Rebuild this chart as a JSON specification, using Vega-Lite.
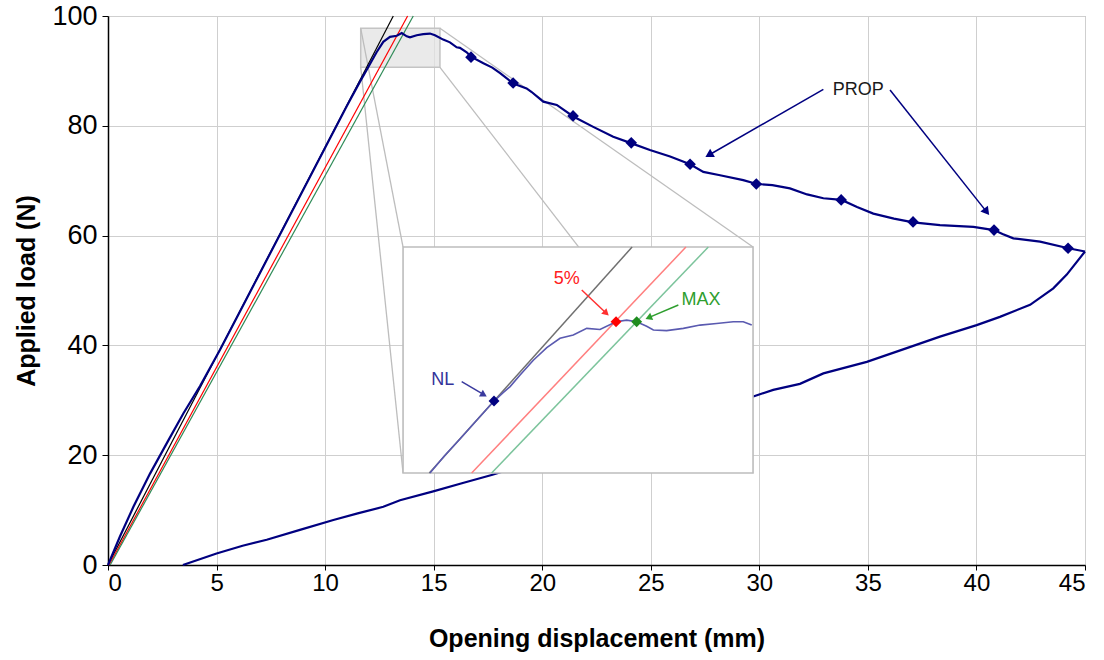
{
  "$schema": "https://vega.github.io/schema/vega-lite/v6.json",
  "width": 977,
  "height": 549,
  "autosize": {"type": "none"},
  "padding": {"left": 108, "top": 16, "right": 19, "bottom": 95},
  "background": "white",
  "config": {
    "font": "Liberation Sans",
    "view": {"stroke": "#a6a6a6", "strokeWidth": 1},
    "axis": {
      "domainColor": "#000000", "domainWidth": 1.5,
      "tickColor": "#000000", "tickSize": 6, "tickWidth": 1,
      "gridColor": "#cfcfcf", "gridWidth": 1,
      "labelFont": "Liberation Sans", "labelColor": "#000000",
      "titleFont": "Liberation Sans", "titleFontSize": 25, "titleFontWeight": "bold", "titleColor": "#000000"
    },
    "axisX": {"labelFontSize": 24, "tickSize": 5, "labelPadding": 1, "titlePadding": 31},
    "axisY": {"labelFontSize": 27, "labelPadding": 5, "titlePadding": 12}
  },
  "datasets": {
    "curve": [
      {"x":0,"y":0,"branch":"load"},{"x":0.55,"y":5.2,"branch":"load"},{"x":1.17,"y":10.6,"branch":"load"},{"x":1.93,"y":16.6,"branch":"load"},{"x":2.78,"y":22.7,"branch":"load"},{"x":3.47,"y":27.6,"branch":"load"},{"x":4.24,"y":32.6,"branch":"load"},{"x":5.16,"y":39.2,"branch":"load"},{"x":6.0,"y":45.6,"branch":"load"},{"x":7.0,"y":53.2,"branch":"load"},{"x":8.0,"y":60.8,"branch":"load"},{"x":9.0,"y":68.4,"branch":"load"},{"x":10.0,"y":76.0,"branch":"load"},{"x":11.0,"y":83.6,"branch":"load"},{"x":11.6,"y":88.0,"branch":"load"},{"x":11.99,"y":90.7,"branch":"load"},{"x":12.37,"y":93.4,"branch":"load"},{"x":12.68,"y":95.3,"branch":"load"},{"x":12.99,"y":96.2,"branch":"load"},{"x":13.3,"y":96.4,"branch":"load"},{"x":13.53,"y":96.9,"branch":"load"},{"x":13.76,"y":96.3,"branch":"load"},{"x":13.91,"y":96.1,"branch":"load"},{"x":14.22,"y":96.5,"branch":"load"},{"x":14.52,"y":96.7,"branch":"load"},{"x":14.83,"y":96.8,"branch":"load"},{"x":15.06,"y":96.5,"branch":"load"},{"x":15.44,"y":95.7,"branch":"load"},{"x":15.75,"y":95.2,"branch":"load"},{"x":16.06,"y":94.3,"branch":"load"},{"x":16.21,"y":94.2,"branch":"load"},{"x":16.52,"y":93.4,"branch":"load"},{"x":16.72,"y":92.6,"branch":"load"},{"x":17.29,"y":91.4,"branch":"load"},{"x":17.7,"y":90.6,"branch":"load"},{"x":18.06,"y":89.6,"branch":"load"},{"x":18.67,"y":87.7,"branch":"load"},{"x":19.28,"y":86.8,"branch":"load"},{"x":19.5,"y":86.2,"branch":"load"},{"x":20.05,"y":84.4,"branch":"load"},{"x":20.67,"y":83.8,"branch":"load"},{"x":21.43,"y":81.7,"branch":"load"},{"x":22.35,"y":79.8,"branch":"load"},{"x":23.27,"y":78.0,"branch":"load"},{"x":24.12,"y":76.8,"branch":"load"},{"x":24.96,"y":75.6,"branch":"load"},{"x":25.89,"y":74.4,"branch":"load"},{"x":26.81,"y":73.0,"branch":"load"},{"x":27.42,"y":71.6,"branch":"load"},{"x":28.19,"y":71.0,"branch":"load"},{"x":29.26,"y":70.1,"branch":"load"},{"x":29.88,"y":69.4,"branch":"load"},{"x":30.6,"y":69.2,"branch":"load"},{"x":31.41,"y":68.6,"branch":"load"},{"x":32.2,"y":67.5,"branch":"load"},{"x":32.95,"y":66.8,"branch":"load"},{"x":33.79,"y":66.5,"branch":"load"},{"x":34.5,"y":65.2,"branch":"load"},{"x":35.25,"y":64.0,"branch":"load"},{"x":36.2,"y":63.1,"branch":"load"},{"x":37.09,"y":62.4,"branch":"load"},{"x":38.32,"y":61.9,"branch":"load"},{"x":39.86,"y":61.6,"branch":"load"},{"x":40.81,"y":61.0,"branch":"load"},{"x":41.2,"y":60.3,"branch":"load"},{"x":41.7,"y":59.5,"branch":"load"},{"x":42.93,"y":58.9,"branch":"load"},{"x":44.23,"y":57.7,"branch":"load"},{"x":45,"y":57.1,"branch":"load"},
      {"x":3.45,"y":0,"branch":"unload"},{"x":5.0,"y":2.1,"branch":"unload"},{"x":6.2,"y":3.5,"branch":"unload"},{"x":7.31,"y":4.6,"branch":"unload"},{"x":8.84,"y":6.4,"branch":"unload"},{"x":10.38,"y":8.2,"branch":"unload"},{"x":11.5,"y":9.4,"branch":"unload"},{"x":12.68,"y":10.6,"branch":"unload"},{"x":13.45,"y":11.8,"branch":"unload"},{"x":14.98,"y":13.4,"branch":"unload"},{"x":16.3,"y":14.9,"branch":"unload"},{"x":17.67,"y":16.4,"branch":"unload"},{"x":29.72,"y":30.7,"branch":"unload"},{"x":30.64,"y":31.9,"branch":"unload"},{"x":31.87,"y":33.0,"branch":"unload"},{"x":32.95,"y":34.9,"branch":"unload"},{"x":34.95,"y":37.0,"branch":"unload"},{"x":36.79,"y":39.5,"branch":"unload"},{"x":38.32,"y":41.6,"branch":"unload"},{"x":40.01,"y":43.7,"branch":"unload"},{"x":41.08,"y":45.2,"branch":"unload"},{"x":42.47,"y":47.4,"branch":"unload"},{"x":43.54,"y":50.4,"branch":"unload"},{"x":44.16,"y":52.9,"branch":"unload"},{"x":45,"y":57.1,"branch":"unload"}
    ],
    "props": [
      {"x":16.72,"y":92.5},{"x":18.66,"y":87.8},{"x":21.42,"y":81.8},{"x":24.1,"y":76.9},{"x":26.81,"y":73.0},{"x":29.86,"y":69.4},{"x":33.77,"y":66.5},{"x":37.08,"y":62.5},{"x":40.81,"y":61.0},{"x":44.22,"y":57.7}
    ],
    "refs": [
      {"x":0,"y":0,"line":"NL"},{"x":13.14,"y":100,"line":"NL"},
      {"x":0.05,"y":0,"line":"5%"},{"x":13.8,"y":100,"line":"5%"},
      {"x":0.1,"y":0,"line":"MAX"},{"x":14.06,"y":100,"line":"MAX"}
    ],
    "boxes": [
      {"box":"zoom","x":11.64,"x2":15.29,"y":90.66,"y2":97.76},
      {"box":"inset","x":13.59,"x2":29.71,"y":16.76,"y2":57.92}
    ],
    "connectors": [
      {"x":11.64,"y":97.76,"x2":13.59,"y2":57.92},
      {"x":15.29,"y":97.76,"x2":29.71,"y2":57.92},
      {"x":11.64,"y":90.66,"x2":13.59,"y2":16.76},
      {"x":15.29,"y":90.66,"x2":29.71,"y2":16.76}
    ],
    "insetRefs": [
      {"x":14.8,"y":16.76,"line":"NL"},{"x":24.14,"y":57.92,"line":"NL"},
      {"x":16.75,"y":16.76,"line":"5%"},{"x":26.62,"y":57.92,"line":"5%"},
      {"x":17.67,"y":16.76,"line":"MAX"},{"x":27.65,"y":57.92,"line":"MAX"}
    ],
    "insetCurve": [
      {"x":14.83,"y":16.76},{"x":15.5,"y":19.9},{"x":16.2,"y":22.9},{"x":16.9,"y":26.0},{"x":17.78,"y":29.86},{"x":18.2,"y":31.4},{"x":18.52,"y":32.5},{"x":18.98,"y":34.6},{"x":19.59,"y":37.3},{"x":20.21,"y":39.6},{"x":20.82,"y":41.3},{"x":21.43,"y":41.9},{"x":22.05,"y":43.1},{"x":22.66,"y":42.9},{"x":23.4,"y":44.3},{"x":23.89,"y":44.6},{"x":24.35,"y":44.3},{"x":24.81,"y":43.5},{"x":25.12,"y":42.8},{"x":25.73,"y":42.7},{"x":26.5,"y":43.1},{"x":27.27,"y":43.7},{"x":28.03,"y":44.0},{"x":28.8,"y":44.3},{"x":29.26,"y":44.3},{"x":29.65,"y":43.7}
    ],
    "insetPts": [
      {"x":17.78,"y":29.86,"pt":"NL"},{"x":23.4,"y":44.32,"pt":"5%"},{"x":24.35,"y":44.32,"pt":"MAX"}
    ],
    "arrows": [
      {"name":"PROP1","x":32.95,"y":86.65,"x2":27.68,"y2":74.68},
      {"name":"PROP2","x":36.02,"y":86.52,"x2":40.47,"y2":64.32},
      {"name":"NL","x":16.29,"y":33.39,"x2":17.31,"y2":31.02},
      {"name":"5%","x":21.82,"y":50.09,"x2":22.95,"y2":45.85},
      {"name":"MAX","x":26.27,"y":47.36,"x2":24.9,"y2":45.05}
    ],
    "labels": [
      {"name":"PROP","text":"PROP","x":34.56,"y":86.48},
      {"name":"NL","text":"NL","x":15.42,"y":33.7},
      {"name":"5%","text":"5%","x":21.13,"y":52.04},
      {"name":"MAX","text":"MAX","x":27.31,"y":48.27}
    ]
  },
  "encoding": {
    "x": {"field":"x","type":"quantitative","title":"Opening displacement (mm)","scale":{"domain":[0,45],"nice":false,"zero":false},"axis":{"values":[0,5,10,15,20,25,30,35,40,45],"format":"d"}},
    "y": {"field":"y","type":"quantitative","title":"Applied load (N)","scale":{"domain":[0,100],"nice":false},"axis":{"values":[0,20,40,60,80,100],"format":"d"}}
  },
  "resolve": {"scale": {"color": "independent"}},
  "layer": [
    {
      "data": {"name":"boxes"},
      "transform": [{"filter":"datum.box === 'zoom'"}],
      "mark": {"type":"rect","fill":"#e3e3e3","fillOpacity":0.75,"stroke":"#c4c4c4","strokeWidth":1.5},
      "encoding": {"x2":{"field":"x2"},"y2":{"field":"y2"}}
    },
    {
      "data": {"name":"connectors"},
      "mark": {"type":"rule","color":"#bdbdbd","strokeWidth":1.3},
      "encoding": {"x2":{"field":"x2"},"y2":{"field":"y2"}}
    },
    {
      "data": {"name":"refs"},
      "mark": {"type":"line","strokeWidth":1.2},
      "encoding": {
        "detail": {"field":"line"},
        "color": {"field":"line","type":"nominal","scale":{"domain":["NL","5%","MAX"],"range":["#000000","#ff0000","#2e8b57"]},"legend":null}
      }
    },
    {
      "data": {"name":"curve"},
      "mark": {"type":"line","color":"#000080","strokeWidth":2.2},
      "encoding": {"detail":{"field":"branch"}}
    },
    {
      "data": {"name":"props"},
      "mark": {"type":"point","shape":"diamond","filled":true,"color":"#000080","size":135,"opacity":1},
      "encoding": {}
    },
    {
      "data": {"name":"boxes"},
      "transform": [{"filter":"datum.box === 'inset'"}],
      "mark": {"type":"rect","fill":"#ffffff","stroke":"#bdbdbd","strokeWidth":1.6},
      "encoding": {"x2":{"field":"x2"},"y2":{"field":"y2"}}
    },
    {
      "data": {"name":"insetRefs"},
      "mark": {"type":"line","strokeWidth":1.5},
      "encoding": {
        "detail": {"field":"line"},
        "color": {"field":"line","type":"nominal","scale":{"domain":["NL","5%","MAX"],"range":["#707070","#ff7f7f","#7cc49c"]},"legend":null}
      }
    },
    {
      "data": {"name":"insetCurve"},
      "mark": {"type":"line","color":"#5a5ab0","strokeWidth":1.6},
      "encoding": {}
    },
    {
      "data": {"name":"insetPts"},
      "mark": {"type":"point","shape":"diamond","filled":true,"size":120,"opacity":1},
      "encoding": {
        "color": {"field":"pt","type":"nominal","scale":{"domain":["NL","5%","MAX"],"range":["#000080","#ff0000","#1e8c1e"]},"legend":null}
      }
    },
    {
      "data": {"name":"arrows"},
      "mark": {"type":"rule","strokeWidth":1.5},
      "encoding": {
        "x2":{"field":"x2"},"y2":{"field":"y2"},
        "color": {"field":"name","type":"nominal","scale":{"domain":["PROP1","PROP2","NL","5%","MAX"],"range":["#000080","#000080","#3a3a9e","#ff3030","#2e9e2e"]},"legend":null}
      }
    },
    {
      "data": {"name":"arrows"},
      "transform": [{"filter":"datum.name === 'PROP1'"}],
      "mark": {"type":"point","shape":"triangle-up","filled":true,"color":"#000080","size":90,"angle":240,"opacity":1},
      "encoding": {"x":{"field":"x2","type":"quantitative"},"y":{"field":"y2","type":"quantitative"}}
    },
    {
      "data": {"name":"arrows"},
      "transform": [{"filter":"datum.name === 'PROP2'"}],
      "mark": {"type":"point","shape":"triangle-up","filled":true,"color":"#000080","size":90,"angle":142,"opacity":1},
      "encoding": {"x":{"field":"x2","type":"quantitative"},"y":{"field":"y2","type":"quantitative"}}
    },
    {
      "data": {"name":"arrows"},
      "transform": [{"filter":"datum.name === 'NL'"}],
      "mark": {"type":"point","shape":"triangle-up","filled":true,"color":"#3a3a9e","size":60,"angle":120,"opacity":1},
      "encoding": {"x":{"field":"x2","type":"quantitative"},"y":{"field":"y2","type":"quantitative"}}
    },
    {
      "data": {"name":"arrows"},
      "transform": [{"filter":"datum.name === '5%'"}],
      "mark": {"type":"point","shape":"triangle-up","filled":true,"color":"#ff3030","size":60,"angle":133,"opacity":1},
      "encoding": {"x":{"field":"x2","type":"quantitative"},"y":{"field":"y2","type":"quantitative"}}
    },
    {
      "data": {"name":"arrows"},
      "transform": [{"filter":"datum.name === 'MAX'"}],
      "mark": {"type":"point","shape":"triangle-up","filled":true,"color":"#2e9e2e","size":60,"angle":247,"opacity":1},
      "encoding": {"x":{"field":"x2","type":"quantitative"},"y":{"field":"y2","type":"quantitative"}}
    },
    {
      "data": {"name":"labels"},
      "mark": {"type":"text","font":"Liberation Sans","fontSize":18,"align":"center","baseline":"middle"},
      "encoding": {
        "text": {"field":"text"},
        "color": {"field":"name","type":"nominal","scale":{"domain":["PROP","NL","5%","MAX"],"range":["#1a1a1a","#33339a","#ff2020","#2e9e2e"]},"legend":null}
      }
    }
  ]
}
